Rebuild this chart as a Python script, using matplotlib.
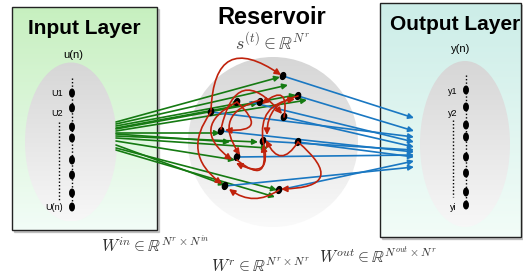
import numpy as np
import matplotlib
matplotlib.use("Agg")
import matplotlib.pyplot as plt
from matplotlib.patches import Rectangle, Ellipse, Circle, FancyArrowPatch

plt.rcParams['font.family'] = ['Liberation Sans', 'DejaVu Sans']
plt.rcParams['mathtext.fontset'] = 'cm'

# diagram content
input_labels = ["U1", "U2", "U(n)"]
output_labels = ["y1", "y2", "yi"]
input_dots_y = [93, 108, 127, 138, 160, 175, 193, 207]
output_dots_y = [90, 107, 125, 137, 157, 173, 192, 205]

# reservoir neurons
res_nodes = [(283, 76), (298, 96), (211, 112), (237, 102), (260, 102), (284, 117),
             (221, 131), (263, 141), (298, 142), (237, 157), (225, 186), (279, 190)]

# W_in: source height on the input ellipse -> target in reservoir
win_src_y = [122, 124, 126, 128, 129, 131, 133, 134, 136, 138, 141, 145, 148, 150]
win_dst = [(280, 77), (288, 85), (240, 103), (296, 95), (258, 103), (307, 100), (220, 133),
           (230, 142), (258, 142), (268, 148), (235, 160), (225, 185), (277, 190), (275, 197)]

# W_out: reservoir node -> height on the output ellipse
wout_src = [(283, 76), (298, 96), (211, 112), (250, 102), (284, 117), (263, 141),
            (221, 131), (298, 142), (237, 157), (225, 186), (279, 190)]
wout_dst_y = [118, 131, 137, 142, 147, 150, 152, 157, 155, 167, 161]

# W_r recurrent links: start, end, curvature
wr_links = [((211, 110), (281, 75), -0.9), ((221, 129), (282, 114), -1.0),
            ((260, 100), (240, 155), 0.7), ((298, 96), (267, 135), 0.4),
            ((263, 141), (295, 99), -0.5), ((237, 102), (225, 130), -1.4),
            ((298, 142), (281, 189), -1.3), ((279, 190), (229, 189), -0.35),
            ((263, 141), (236, 163), -1.1), ((237, 160), (263, 145), 1.3),
            ((284, 117), (262, 104), 1.3), ((298, 142), (266, 140), -0.9),
            ((237, 102), (232, 160), 0.8), ((211, 112), (222, 184), 0.5)]

GREEN = '#157a12'
BLUE = '#1a78c2'
RED = '#c0220c'


def gradient(ax, patch, top, bottom, x0, x1, y0, y1, z):
    t = np.linspace(0, 1, 200)[:, None, None]
    img = np.array(top)[None, None, :] * (1 - t) + np.array(bottom)[None, None, :] * t
    im = ax.imshow(img, extent=(x0, x1, y1, y0), aspect='auto', zorder=z,
                   interpolation='bilinear')
    im.set_clip_path(patch)


fig = plt.figure(figsize=(5.23, 2.78), dpi=100)
ax = fig.add_axes([0, 0, 1, 1])
ax.set_xlim(0, 523)
ax.set_ylim(278, 0)
ax.axis('off')

# layer boxes
for (x0, y0, x1, y1, top) in [(12, 7, 157, 230, (0.78, 0.94, 0.75)),
                              (380, 3, 521, 237, (0.80, 0.93, 0.91))]:
    ax.add_patch(Rectangle((x0 + 2, y0 + 2), x1 - x0, y1 - y0, color='#999999',
                           alpha=0.5, zorder=1))
    box = Rectangle((x0, y0), x1 - x0, y1 - y0, facecolor='none', edgecolor='none', zorder=2)
    ax.add_patch(box)
    gradient(ax, box, top, (0.95, 0.99, 0.97), x0, x1, y0, y1, 2)
    ax.add_patch(Rectangle((x0, y0), x1 - x0, y1 - y0, facecolor='none',
                           edgecolor='#222222', lw=1.0, zorder=3))

# ellipses
for (cx, cy, w, h) in [(71, 142, 92, 159), (465, 144, 90, 166)]:
    e = Ellipse((cx, cy), w, h, facecolor='none', edgecolor='none', zorder=4)
    ax.add_patch(e)
    gradient(ax, e, (0.84, 0.84, 0.84), (0.97, 0.97, 0.97), cx - w / 2, cx + w / 2,
             cy - h / 2, cy + h / 2, 4)

res = Circle((273, 142), 85, facecolor='none', edgecolor='none', zorder=1)
ax.add_patch(res)
gradient(ax, res, (0.84, 0.84, 0.84), (0.98, 0.98, 0.98), 188, 358, 57, 227, 1)

# titles
ax.text(84, 29, "Input Layer", fontsize=15, fontweight='bold', ha='center', va='center', zorder=6)
ax.text(455, 25, "Output Layer", fontsize=15, fontweight='bold', ha='center', va='center', zorder=6)
ax.text(272, 17, "Reservoir", fontsize=17, fontweight='bold', ha='center', va='center', zorder=6)
ax.text(73, 55, "u(n)", fontsize=8, ha='center', va='center', zorder=6)
ax.text(461, 49, "y(n)", fontsize=8, ha='center', va='center', zorder=6)
ax.text(273, 42, r'$s^{(t)} \in \mathbb{R}^{N^r}$', fontsize=13, ha='center', va='center',
        color='#444444', zorder=6)

# neuron columns
for (x, ys, labels, lx, ly, dash_x, dash_y) in [
        (72, input_dots_y, input_labels, 63, [93, 114, 208], 59, (122, 200)),
        (466, output_dots_y, output_labels, 457, [91, 113, 207], 453, (120, 197))]:
    ax.plot([x, x], [ys[0] - 15, ys[-1]], ls=(0, (1, 1.5)), color='black', lw=1, zorder=5)
    ax.plot([dash_x, dash_x], dash_y, ls=(0, (1, 1.5)), color='black', lw=1, zorder=5)
    for y in ys:
        ax.add_patch(Ellipse((x, y), 4.5, 7.5, color='black', zorder=6))
    for lab, yy in zip(labels, ly):
        ax.text(lx, yy, lab, fontsize=6.5, ha='right', va='center', zorder=6)

for (x, y) in res_nodes:
    ax.add_patch(Ellipse((x, y), 5, 7, angle=20, color='black', zorder=8))

# input weights
for sy, (tx, ty) in zip(win_src_y, win_dst):
    ax.add_patch(FancyArrowPatch((116, sy), (tx, ty), arrowstyle='-|>', mutation_scale=8,
                                 color=GREEN, lw=1.2, shrinkA=0, shrinkB=0, zorder=7))

# output weights
for (sx, sy), ty in zip(wout_src, wout_dst_y):
    ax.add_patch(FancyArrowPatch((sx, sy), (414, ty), arrowstyle='-|>', mutation_scale=8,
                                 color=BLUE, lw=1.2, shrinkA=0, shrinkB=0, zorder=7))

# recurrent weights
for a, b, r in wr_links:
    ax.add_patch(FancyArrowPatch(a, b, arrowstyle='-|>', mutation_scale=9, color=RED, lw=1.2,
                                 shrinkA=0, shrinkB=0, connectionstyle=f'arc3,rad={r}', zorder=9))

# weight matrices
ax.text(155, 244, r'$W^{in} \in \mathbb{R}^{N^r \times N^{in}}$', fontsize=12, ha='center',
        va='center', color='#333333')
ax.text(260, 265, r'$W^{r} \in \mathbb{R}^{N^r \times N^{r}}$', fontsize=12, ha='center',
        va='center', color='#333333')
ax.text(378, 255, r'$W^{out} \in \mathbb{R}^{N^{out} \times N^{r}}$', fontsize=12, ha='center',
        va='center', color='#333333')

fig.savefig('out.png', dpi=100)
